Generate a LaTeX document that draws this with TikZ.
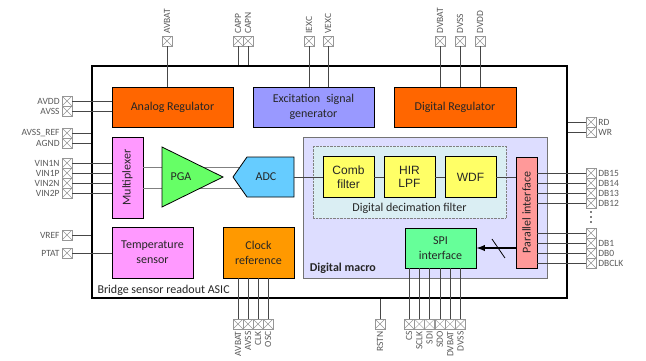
\documentclass[tikz,border=0pt]{standalone}
\usepackage{fontspec}
\usepackage{graphicx}
\setmainfont{Carlito}
\newfontfamily\arialfont{Liberation Sans}
\usetikzlibrary{arrows.meta,positioning,calc}
\definecolor{regorange}{RGB}{255,102,0}
\definecolor{excblue}{RGB}{153,153,255}
\definecolor{muxpink}{RGB}{255,153,255}
\definecolor{pgagreen}{RGB}{102,255,102}
\definecolor{adcblue}{RGB}{102,204,255}
\definecolor{clkorange}{RGB}{255,153,0}
\definecolor{macropale}{RGB}{221,221,255}
\definecolor{filtpale}{RGB}{218,238,243}
\definecolor{filtyellow}{RGB}{255,255,102}
\definecolor{parsalmon}{RGB}{255,153,153}
\definecolor{spigreen}{RGB}{102,255,153}
\definecolor{pingray}{RGB}{150,150,150}
\definecolor{labelgray}{RGB}{89,89,89}
\definecolor{wiregray}{RGB}{70,70,70}

\begin{document}
\begin{tikzpicture}[x=1pt,y=-1pt,>=Latex,
  every node/.style={align=center,text=black!85,font=\fontsize{12}{15}\selectfont},
  block/.style={draw,line width=0.8pt,inner sep=0pt},
  arialblock/.style={block,fill=filtyellow,minimum width=51pt,minimum height=41pt,
    font=\arialfont\fontsize{12}{13.5}\selectfont},
  pin/.style={draw=pingray,minimum size=10pt,inner sep=0pt,
    path picture={\draw[pingray] (path picture bounding box.north west) -- (path picture bounding box.south east)
      (path picture bounding box.south west) -- (path picture bounding box.north east);}},
  pinlabel/.style={text=labelgray,inner sep=2pt,font=\fontsize{9.5}{10}\selectfont},
  wire/.style={wiregray,line width=0.5pt}]
  \useasboundingbox (0,0) rectangle (646,360);
  \clip (0,0) rectangle (646,360);

  \node[draw,line width=1.4pt,minimum width=475pt,minimum height=232pt] (asic) at (329.5,182) {};
  \node[anchor=south west,inner sep=1pt] (asiclbl) at ([xshift=5pt,yshift=2pt]asic.south west) {Bridge sensor readout ASIC};

  \node[block,fill=regorange,minimum width=121pt,minimum height=40pt] (areg) at (172.5,107) {Analog Regulator};
  \node[block,fill=excblue,minimum width=121pt,minimum height=40pt] (exc) at (313.5,107) {Excitation\enspace signal\\generator};
  \node[block,fill=regorange,minimum width=122pt,minimum height=40pt] (dreg) at (455,107) {Digital Regulator};
  \node[block,fill=muxpink,minimum width=31pt,minimum height=81pt] (mux) at (127.5,177.5) {\rotatebox{90}{Multiplexer}};
  \node[block,fill=muxpink,minimum width=81pt,minimum height=51pt] (temp) at (152.5,252.5) {Temperature\\sensor};
  \node[block,fill=clkorange,minimum width=71pt,minimum height=51pt] (clk) at (258.5,252.5) {Clock\\reference};

  \coordinate (adcup) at (240,167);
  \coordinate (adcdn) at (240.7,188);
  \draw[wire,gray] (mux.east |- adcup) -- (adcup);
  \draw[wire,gray] (mux.east |- adcdn) -- (adcdn);
  \draw[line width=0.8pt,fill=pgagreen] (162,147) -- (223,177) -- (162,207) -- cycle;
  \node (pga) at (181,177) {PGA};
  \draw[line width=0.8pt,fill=adcblue] (233,177) -- (247,157) -- (294,157) -- (294,197) -- (247,197) -- cycle;
  \node (adc) at (266,177) {ADC};
  \coordinate (adcout) at (294,177);

  \node[draw=black!55,line width=0.8pt,fill=macropale,minimum width=244pt,minimum height=141pt] (macro) at (425,207.5) {};
  \node[anchor=south west,inner sep=1pt,font=\bfseries\fontsize{12}{15}\selectfont] (macrolbl) at ([xshift=6pt,yshift=4pt]macro.south west) {Digital macro};
  \node[draw=gray,densely dotted,fill=filtpale,minimum width=193pt,minimum height=72pt] (filt) at (409.5,182) {};
  \node[anchor=south,inner sep=1pt] (filtlbl) at ([yshift=3pt]filt.south) {Digital decimation filter};
  \node[arialblock] (comb) at (348.5,177) {Comb\\filter};
  \node[arialblock] (hir) at (409.5,177) {HIR\\LPF};
  \node[arialblock] (wdf) at (470.5,177) {WDF};
  \node[block,fill=parsalmon,minimum width=21pt,minimum height=111pt] (par) at (526.5,212.5) {\rotatebox{90}{Parallel interface}};
  \node[block,fill=spigreen,minimum width=71pt,minimum height=40pt] (spi) at (440.5,248) {SPI\\interface};

  \draw[wire] (adcout) -- (comb.west);
  \draw[wire] (comb.east) -- (hir.west);
  \draw[wire] (hir.east) -- (wdf.west);
  \draw[wire] (wdf.east) -- (wdf.east -| par.west);
  \draw[->,line width=1.2pt] (par.west |- spi.east) -- coordinate[pos=0.45] (bus) (spi.east);
  \draw[line width=0.8pt] ($(bus)+(-6,-9)$) -- ($(bus)+(7,10)$);

  \foreach \n/\t/\y in {avdd/AVDD/101, avss/AVSS/111, avssref/AVSS\_REF/133, agnd/AGND/143,
      vin1n/VIN1N/163, vin1p/VIN1P/173, vin2n/VIN2N/183, vin2p/VIN2P/193, vref/VREF/235, ptat/PTAT/253}
  {
    \node[pin] (l-\n) at (67,\y) {};
    \node[pinlabel,anchor=east] (ll-\n) at (l-\n.west) {\t};
  }
  \foreach \n in {avdd,avss}
    \draw[wire] (l-\n.east) -- (l-\n -| areg.west);
  \foreach \n in {avssref,agnd,vref}
    \draw[wire] (l-\n.east) -- (l-\n -| asic.west);
  \foreach \n in {vin1n,vin1p,vin2n,vin2p}
    \draw[wire] (l-\n.east) -- (l-\n -| mux.west);
  \draw[wire] (l-ptat.east) -- (l-ptat -| temp.west);

  \foreach \n/\t/\x in {avbat/AVBAT/167, capp/CAPP/238, capn/CAPN/248, iexc/IEXC/309, vexc/VEXC/328,
      dvbat/DVBAT/440, dvss/DVSS/460, dvdd/DVDD/480}
  {
    \node[pin] (t-\n) at (\x,41) {};
    \node[pinlabel,rotate=90,anchor=west] (tl-\n) at (t-\n.north) {\t};
  }
  \draw[wire] (t-avbat.south) -- (t-avbat |- areg.north);
  \foreach \n in {capp,capn}
    \draw[wire] (t-\n.south) -- (t-\n |- asic.north);
  \foreach \n in {iexc,vexc}
    \draw[wire] (t-\n.south) -- (t-\n |- exc.north);
  \foreach \n in {dvbat,dvss,dvdd}
    \draw[wire] (t-\n.south) -- (t-\n |- dreg.north);

  \foreach \n/\t/\y in {rd/RD/122, wr/WR/132, db15/DB15/173, db14/DB14/183, db13/DB13/193, db12/DB12/203,
      db1/DB1/243, db0/DB0/253, dbclk/DBCLK/263}
  {
    \node[pin] (r-\n) at (591,\y) {};
    \node[pinlabel,anchor=west] (rl-\n) at (r-\n.east) {\t};
  }
  \node[pin] (r-dbx) at (591,233) {};
  \foreach \y in {212,217,222}
    \fill (591,\y) circle (0.9pt);
  \foreach \n in {rd,wr}
    \draw[wire] (r-\n.west) -- (r-\n -| asic.east);
  \foreach \n in {db15,db14,db13,db12,dbx,db1,db0,dbclk}
    \draw[wire] (r-\n.west) -- (r-\n -| par.east);

  \foreach \n/\t/\x in {avbat/AVBAT/238, avss/AVSS/248, clk/CLK/258, osc/OSC/268, rstn/RSTN/380,
      cs/CS/409, sclk/SCLK/419.3, sdi/SDI/429.6, sdo/SDO/439.9, dvbat/DVBAT/450.2, dvss/DVSS/460.5}
  {
    \node[pin] (b-\n) at (\x,324) {};
    \node[pinlabel,rotate=90,anchor=east] (bl-\n) at (b-\n.south) {\t};
  }
  \foreach \n in {avbat,avss,clk,osc}
    \draw[wire] (b-\n.north) -- (b-\n |- clk.south);
  \draw[wire] (b-rstn.north) -- (b-rstn |- asic.south);
  \foreach \n in {cs,sclk,sdi,sdo,dvbat,dvss}
    \draw[wire] (b-\n.north) -- (b-\n |- spi.south);
\end{tikzpicture}
\end{document}
